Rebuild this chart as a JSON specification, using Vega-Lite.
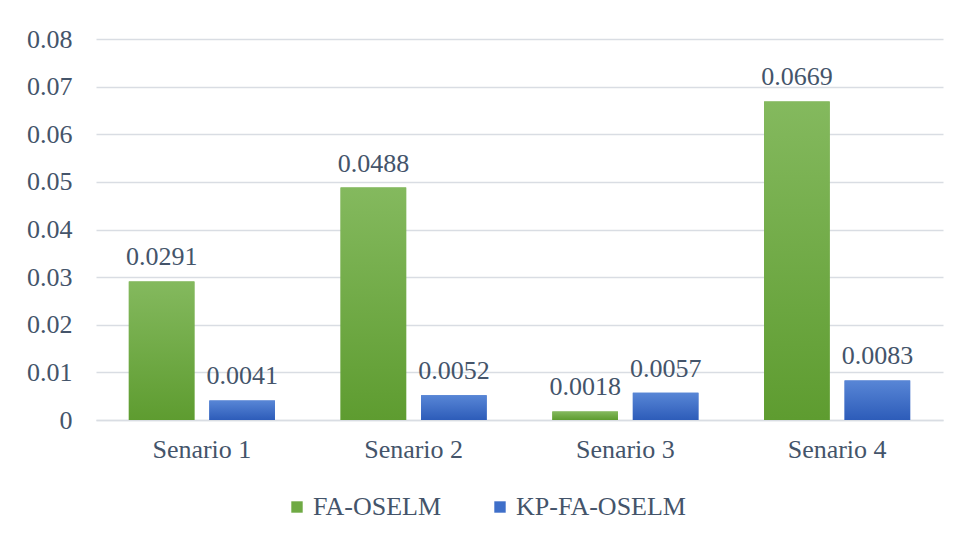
{
  "$schema": "https://vega.github.io/schema/vega-lite/v6.json",
  "width": 847,
  "height": 381,
  "autosize": {"type": "none"},
  "padding": {"left": 96, "top": 39, "right": 17, "bottom": 118},
  "background": "white",
  "config": {
    "view": {"stroke": null},
    "font": "Liberation Serif",
    "axis": {"labelFont": "Liberation Serif", "labelColor": "#44546A", "labelFontSize": 26},
    "legend": {"labelFont": "Liberation Serif", "labelColor": "#44546A", "labelFontSize": 26}
  },
  "data": {
    "values": [
      {"scenario": "Senario 1", "series": "FA-OSELM", "value": 0.0291},
      {"scenario": "Senario 1", "series": "KP-FA-OSELM", "value": 0.0041},
      {"scenario": "Senario 2", "series": "FA-OSELM", "value": 0.0488},
      {"scenario": "Senario 2", "series": "KP-FA-OSELM", "value": 0.0052},
      {"scenario": "Senario 3", "series": "FA-OSELM", "value": 0.0018},
      {"scenario": "Senario 3", "series": "KP-FA-OSELM", "value": 0.0057},
      {"scenario": "Senario 4", "series": "FA-OSELM", "value": 0.0669},
      {"scenario": "Senario 4", "series": "KP-FA-OSELM", "value": 0.0083}
    ]
  },
  "encoding": {
    "x": {
      "field": "scenario", "type": "nominal", "title": null,
      "scale": {"paddingInner": 0.31, "paddingOuter": 0.155},
      "axis": {"labelAngle": 0, "ticks": false, "domain": true, "domainColor": "#d9dde3", "domainWidth": 1.5, "labelPadding": 16}
    },
    "xOffset": {"field": "series", "type": "nominal", "scale": {"paddingInner": 0.185, "paddingOuter": 0}},
    "y": {
      "field": "value", "type": "quantitative", "title": null,
      "scale": {"domain": [0, 0.08], "nice": false},
      "axis": {"values": [0, 0.01, 0.02, 0.03, 0.04, 0.05, 0.06, 0.07, 0.08], "labelExpr": "datum.value == 0 ? '0' : format(datum.value, '.2f')", "ticks": false, "domain": false, "gridColor": "#d9dde3", "gridWidth": 1.5, "labelPadding": 24}
    }
  },
  "layer": [
    {
      "mark": {"type": "bar"},
      "encoding": {
        "color": {
          "field": "series", "type": "nominal",
          "scale": {"domain": ["FA-OSELM", "KP-FA-OSELM"], "range": ["#6faa44", "#3f6fc9"]},
          "legend": {"title": null, "orient": "none", "legendX": 188, "legendY": 455, "direction": "horizontal", "symbolType": "square", "symbolSize": 130, "symbolStrokeWidth": 0, "symbolOpacity": 1, "labelOffset": 3, "labelLimit": 0, "columnPadding": 45}
        }
      }
    },
    {
      "mark": {"type": "bar"},
      "encoding": {
        "fill": {
          "condition": {
            "test": "datum.series == 'FA-OSELM'",
            "value": {"gradient": "linear", "x1": 0, "y1": 0, "x2": 0, "y2": 1, "stops": [{"offset": 0, "color": "#84b95e"}, {"offset": 1, "color": "#5e9c30"}]}
          },
          "value": {"gradient": "linear", "x1": 0, "y1": 0, "x2": 0, "y2": 1, "stops": [{"offset": 0, "color": "#5886d6"}, {"offset": 1, "color": "#2d5cb9"}]}
        }
      }
    },
    {
      "mark": {"type": "text", "baseline": "alphabetic", "dy": -16, "fontSize": 26, "color": "#44546A", "font": "Liberation Serif"},
      "encoding": {
        "text": {"field": "value", "type": "quantitative", "format": ".4f"}
      }
    }
  ]
}
